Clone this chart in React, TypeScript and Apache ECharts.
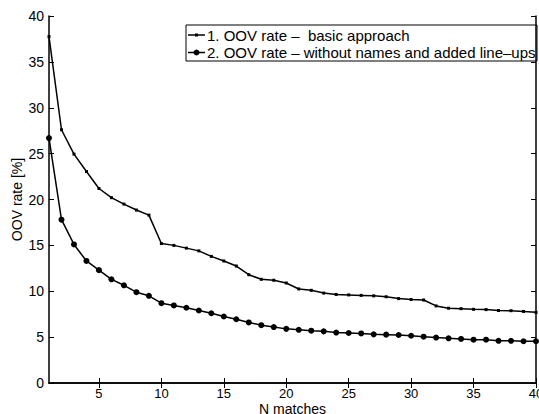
import React, { useEffect, useRef } from "react";
import * as echarts from "echarts";

const nMatches = [
  1, 2, 3, 4, 5, 6, 7, 8, 9, 10, 11, 12, 13, 14, 15, 16, 17, 18, 19, 20,
  21, 22, 23, 24, 25, 26, 27, 28, 29, 30, 31, 32, 33, 34, 35, 36, 37, 38, 39, 40,
];
const basicApproach = [
  37.75, 27.6, 24.95, 23.05, 21.2, 20.2, 19.5, 18.85, 18.3, 15.2, 15.0, 14.7, 14.4, 13.8, 13.3, 12.75,
  11.8, 11.3, 11.2, 10.9, 10.25, 10.1, 9.8, 9.65, 9.6, 9.55, 9.5, 9.4, 9.2, 9.1, 9.05, 8.4, 8.15, 8.1,
  8.03, 8.0, 7.9, 7.88, 7.8, 7.7,
];
const withoutNames = [
  26.7, 17.8, 15.1, 13.3, 12.3, 11.3, 10.65, 9.9, 9.5, 8.7, 8.45, 8.2, 7.9, 7.6, 7.25, 6.95, 6.6, 6.3,
  6.1, 5.9, 5.8, 5.7, 5.63, 5.5, 5.45, 5.4, 5.3, 5.27, 5.23, 5.15, 5.05, 4.95, 4.87, 4.8, 4.72, 4.72,
  4.6, 4.6, 4.55, 4.55,
];
const xTicks = [5, 10, 15, 20, 25, 30, 35, 40];
const seriesNames = [
  "1. OOV rate \u2013  basic approach",
  "2. OOV rate \u2013 without names and added line\u2013ups",
];

const FONT = "'Liberation Sans', Arial, Helvetica, sans-serif";

export default function App() {
  const ref = useRef<HTMLDivElement>(null);
  useEffect(() => {
    if (!ref.current) return;
    const chart = echarts.init(ref.current, null, { renderer: "svg" });
    const axisLine = { show: true, lineStyle: { color: "#000", width: 1.5 } };
    const tick = { show: true, inside: true, length: 5, lineStyle: { color: "#000", width: 1 } };
    const label = { color: "#000", fontSize: 14, fontFamily: FONT };
    const legendX = 186;
    const legendY = 25;
    const rowH = 17.5;
    const legendItems = seriesNames.map((name, i) => {
      const cy = legendY + 10 + i * rowH;
      const marker =
        i === 0
          ? { type: "rect", shape: { x: 195, y: cy - 1.5, width: 3, height: 3 }, style: { fill: "#000" } }
          : { type: "circle", shape: { cx: 196.5, cy, r: 3 }, style: { fill: "#000" } };
      return [
        {
          type: "line",
          shape: { x1: 188, y1: cy, x2: 205, y2: cy },
          style: { stroke: "#000", lineWidth: 1.5 },
        },
        marker,
        {
          type: "text",
          x: 207,
          y: cy,
          style: {
            text: name,
            fill: "#000",
            font: `15px ${FONT}`,
            verticalAlign: "middle",
            align: "left",
          },
        },
      ];
    });
    chart.setOption({
      animation: false,
      backgroundColor: "#fff",
      grid: { left: 49, right: 3, top: 16, bottom: 31, outerBoundsMode: "none", containLabel: false },
      graphic: [
        {
          type: "group",
          silent: true,
          z: 100,
          children: [
            {
              type: "rect",
              shape: { x: legendX, y: legendY, width: 351, height: 36 },
              style: { fill: "#fff", stroke: "#000", lineWidth: 1 },
            },
            ...legendItems.flat(),
          ],
        },
      ],
      xAxis: [
        {
          type: "value",
          min: 1,
          max: 40,
          position: "bottom",
          axisLine,
          axisTick: { ...tick, customValues: xTicks },
          axisLabel: { ...label, fontSize: 13, lineHeight: 12, margin: 4, customValues: xTicks },
          splitLine: { show: false },
          name: "N matches",
          nameLocation: "middle",
          nameGap: 19,
          nameMoveOverlap: false,
          nameTextStyle: { color: "#000", fontSize: 14, lineHeight: 13, fontFamily: FONT },
        },
        {
          type: "value",
          min: 1,
          max: 40,
          position: "top",
          axisLine,
          axisTick: { ...tick, customValues: xTicks },
          axisLabel: { show: false },
          splitLine: { show: false },
        },
      ],
      yAxis: [
        {
          type: "value",
          min: 0,
          max: 40,
          interval: 5,
          position: "left",
          axisLine,
          axisTick: tick,
          axisLabel: { ...label, margin: 5 },
          splitLine: { show: false },
          name: "OOV rate [%]",
          nameLocation: "middle",
          nameGap: 25,
          nameMoveOverlap: false,
          nameTextStyle: { color: "#000", fontSize: 14, fontFamily: FONT },
        },
        {
          type: "value",
          min: 0,
          max: 40,
          interval: 5,
          position: "right",
          axisLine,
          axisTick: tick,
          axisLabel: { show: false },
          splitLine: { show: false },
        },
      ],
      series: [
        {
          name: seriesNames[0],
          type: "line",
          data: nMatches.map((x, i) => [x, basicApproach[i]]),
          symbol: "rect",
          symbolSize: 3,
          showAllSymbol: true,
          lineStyle: { color: "#000", width: 1.5 },
          itemStyle: { color: "#000" },
        },
        {
          name: seriesNames[1],
          type: "line",
          data: nMatches.map((x, i) => [x, withoutNames[i]]),
          symbol: "circle",
          symbolSize: 6,
          showAllSymbol: true,
          lineStyle: { color: "#000", width: 1.5 },
          itemStyle: { color: "#000" },
        },
      ],
    });
    return () => chart.dispose();
  }, []);
  return (
    <div
      ref={ref}
      style={{ position: "absolute", left: 0, top: 0, width: 539, height: 414 }}
    />
  );
}
